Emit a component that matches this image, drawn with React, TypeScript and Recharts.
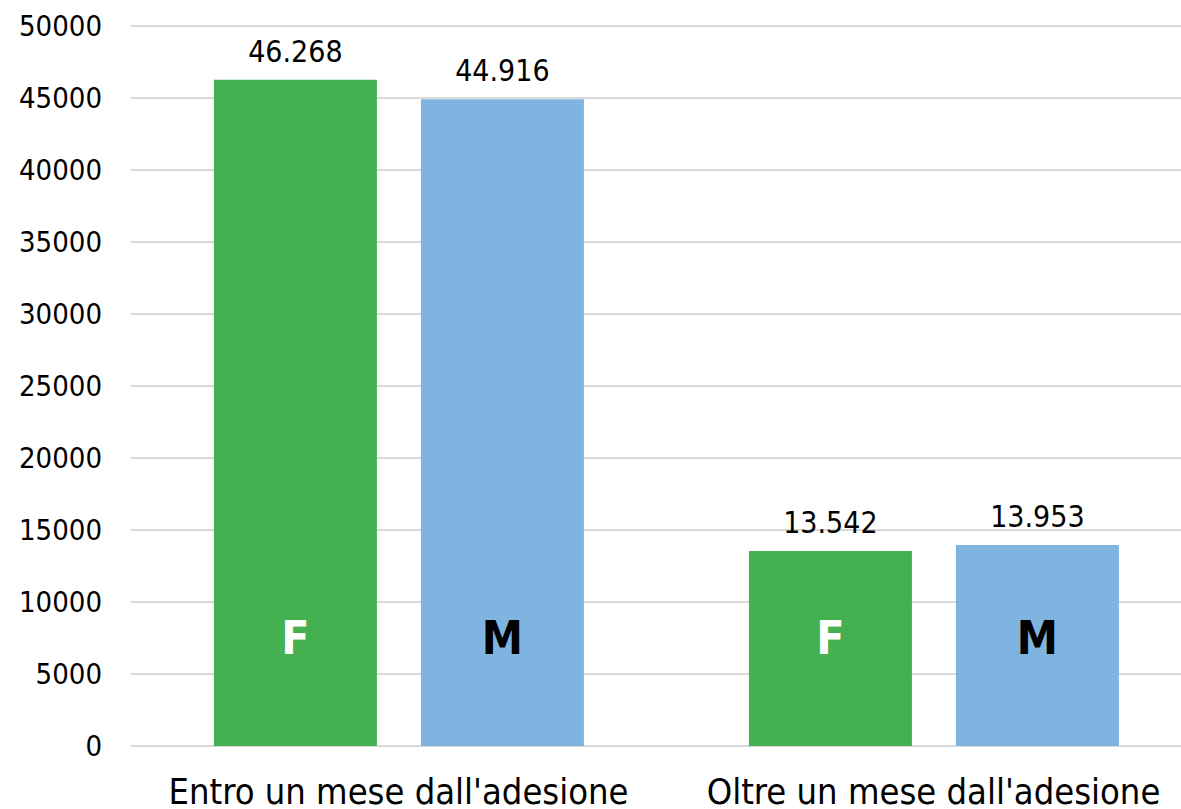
import { BarChart, Bar, XAxis, YAxis, CartesianGrid, LabelList } from 'recharts';

const categories = ["Entro un mese dall'adesione", "Oltre un mese dall'adesione"];
const femmine = [46268, 13542];
const maschi = [44916, 13953];
const yTicks = [0, 5000, 10000, 15000, 20000, 25000, 30000, 35000, 40000, 45000, 50000];

const data = categories.map((name, i) => ({ name, F: femmine[i], M: maschi[i] }));

const FONT = '"DejaVu Sans Condensed", "DejaVu Sans", sans-serif';

const fmt = (v: number) => String(v).replace(/\B(?=(\d{3})+(?!\d))/g, '.');

const letterLabel = (letter: string, color: string) => (props: any) => {
    const { x, y, width, height } = props;
    return (
        <text
            x={x + width / 2}
            y={y + height - 92}
            textAnchor="middle"
            fill={color}
            fontFamily={FONT}
            fontWeight="bold"
            fontSize={46}
        >
            {letter}
        </text>
    );
};

export default function App() {
    return (
        <div style={{ position: 'absolute', left: 0, top: 0, width: 1181, height: 809, overflow: 'hidden', background: '#fff' }}>
            <BarChart
                width={1201}
                height={809}
                data={data}
                margin={{ top: 26, right: 0, left: 0, bottom: 0 }}
                barCategoryGap="15.5%"
                barGap={44}
            >
                <CartesianGrid vertical={false} stroke="#d9d9d9" strokeWidth={2} />
                <XAxis
                    dataKey="name"
                    axisLine={false}
                    tickLine={false}
                    height={63}
                    tickMargin={26}
                    tick={{ fill: '#000', fontSize: 36, fontFamily: FONT }}
                />
                <YAxis
                    width={131}
                    domain={[0, 50000]}
                    ticks={yTicks}
                    axisLine={false}
                    tickLine={false}
                    tickMargin={23}
                    tick={{ fill: '#000', fontSize: 29, fontFamily: FONT }}
                />
                <Bar dataKey="F" fill="#44b050" isAnimationActive={false}>
                    <LabelList dataKey="F" position="top" offset={18} formatter={(v: any) => fmt(v)}
                        style={{ fill: '#000', fontSize: 30, fontFamily: FONT }} />
                    <LabelList dataKey="F" content={letterLabel('F', '#fff')} />
                </Bar>
                <Bar dataKey="M" fill="#7fb4e0" isAnimationActive={false}>
                    <LabelList dataKey="M" position="top" offset={18} formatter={(v: any) => fmt(v)}
                        style={{ fill: '#000', fontSize: 30, fontFamily: FONT }} />
                    <LabelList dataKey="M" content={letterLabel('M', '#000')} />
                </Bar>
            </BarChart>
        </div>
    );
}
